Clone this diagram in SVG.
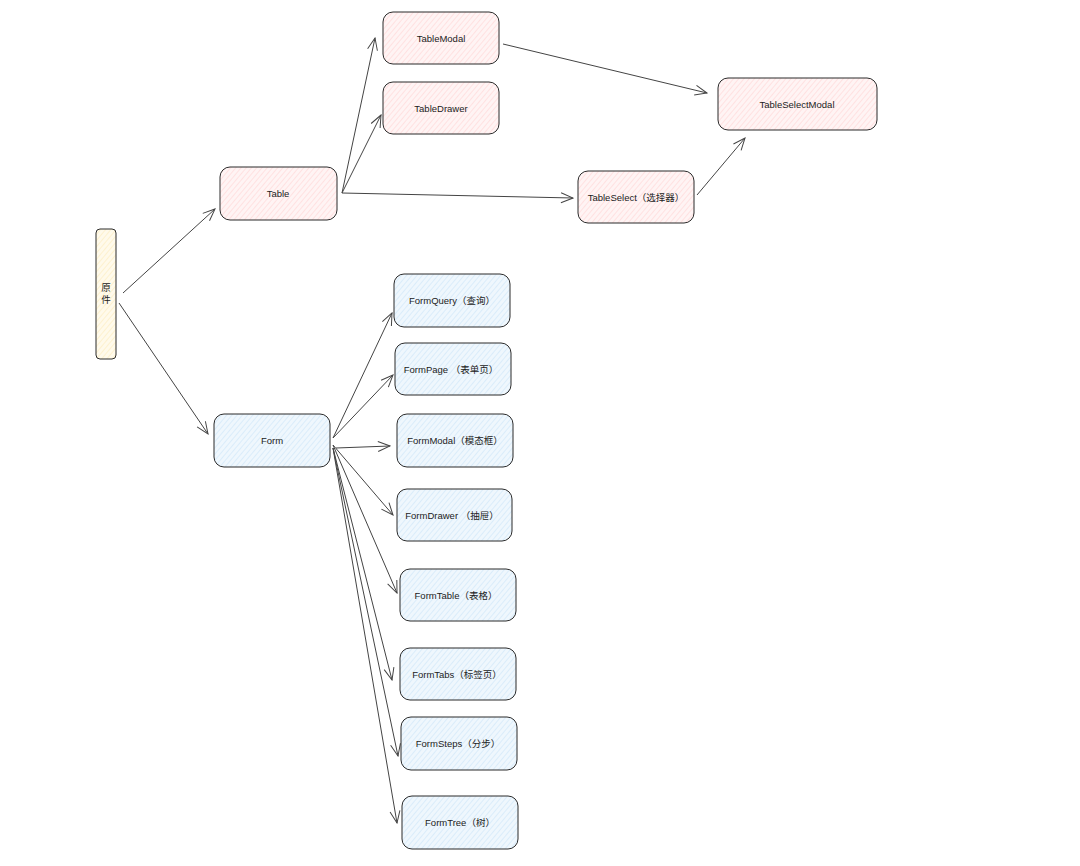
<svg xmlns="http://www.w3.org/2000/svg" width="1080" height="866" viewBox="0 0 1080 866">
<defs>
<pattern id="hPink" width="4" height="4" patternUnits="userSpaceOnUse" patternTransform="rotate(40)">
<rect width="4" height="4" fill="#fff4f4"/>
<line x1="0" y1="0" x2="0" y2="4" stroke="#ffcfcf" stroke-width="1"/>
</pattern>
<pattern id="hBlue" width="4" height="4" patternUnits="userSpaceOnUse" patternTransform="rotate(40)">
<rect width="4" height="4" fill="#eff7fd"/>
<line x1="0" y1="0" x2="0" y2="4" stroke="#c6e1f7" stroke-width="1"/>
</pattern>
<pattern id="hYellow" width="4" height="4" patternUnits="userSpaceOnUse" patternTransform="rotate(40)">
<rect width="4" height="4" fill="#fffaeb"/>
<line x1="0" y1="0" x2="0" y2="4" stroke="#fbe8b4" stroke-width="1"/>
</pattern>
<marker id="arr" markerWidth="14" markerHeight="12" refX="13" refY="6" orient="auto" markerUnits="userSpaceOnUse">
<path d="M1,1 L13,6 L1,11" fill="none" stroke="#444" stroke-width="1"/>
</marker>
</defs>
<style>
.n rect{stroke:#2b2b2b;stroke-width:1;}
.pk{fill:url(#hPink);}
.bl{fill:url(#hBlue);}
.yl{fill:url(#hYellow);}
text{font-family:"Liberation Sans","Noto Sans CJK SC",sans-serif;font-size:9.5px;fill:#222;text-anchor:middle;dominant-baseline:central;}
.c line{stroke:#444;stroke-width:1;fill:none;marker-end:url(#arr);}
</style>
<rect width="1080" height="866" fill="#ffffff"/>
<g class="c" id="connectors">
<line x1="123" y1="293" x2="215" y2="209"/>
<line x1="119" y1="303" x2="208" y2="434"/>
<line x1="342" y1="193" x2="375" y2="38"/>
<line x1="342" y1="193" x2="381" y2="115"/>
<line x1="342" y1="193" x2="573" y2="198"/>
<line x1="503" y1="44" x2="707" y2="93"/>
<line x1="697" y1="195" x2="745" y2="138"/>
<line x1="333" y1="438" x2="392" y2="313"/>
<line x1="333" y1="438" x2="393" y2="375"/>
<line x1="336" y1="448" x2="390" y2="446"/>
<line x1="333" y1="445" x2="393" y2="515"/>
<line x1="333" y1="445" x2="397" y2="593"/>
<line x1="333" y1="448" x2="392" y2="680"/>
<line x1="333" y1="448" x2="398" y2="756"/>
<line x1="333" y1="448" x2="397" y2="823"/>
</g>
<g class="n" id="n-yuanjian"><rect x="96" y="229" width="20" height="130" rx="4" class="yl"/><text x="106" y="287">原</text><text x="106" y="299">件</text></g>
<g class="n" id="n-table"><rect x="220" y="167" width="117" height="53" rx="10" class="pk"/><text x="278" y="193">Table</text></g>
<g class="n" id="n-tablemodal"><rect x="383" y="12" width="116" height="52" rx="10" class="pk"/><text x="441" y="38">TableModal</text></g>
<g class="n" id="n-tabledrawer"><rect x="383" y="82" width="116" height="52" rx="10" class="pk"/><text x="441" y="108">TableDrawer</text></g>
<g class="n" id="n-tableselectmodal"><rect x="718" y="78" width="159" height="52" rx="10" class="pk"/><text x="797" y="104">TableSelectModal</text></g>
<g class="n" id="n-tableselect"><rect x="578" y="171" width="116" height="52" rx="10" class="pk"/><text x="636" y="197">TableSelect（选择器）</text></g>
<g class="n" id="n-form"><rect x="214" y="414" width="116" height="53" rx="10" class="bl"/><text x="272" y="440">Form</text></g>
<g class="n" id="n-formquery"><rect x="394" y="274" width="116" height="53" rx="10" class="bl"/><text x="452" y="300">FormQuery（查询）</text></g>
<g class="n" id="n-formpage"><rect x="395" y="343" width="116" height="52" rx="10" class="bl"/><text x="451" y="369">FormPage （表单页）</text></g>
<g class="n" id="n-formmodal"><rect x="397" y="414" width="116" height="53" rx="10" class="bl"/><text x="455" y="440">FormModal（模态框）</text></g>
<g class="n" id="n-formdrawer"><rect x="397" y="489" width="115" height="52" rx="10" class="bl"/><text x="452" y="515">FormDrawer （抽屉）</text></g>
<g class="n" id="n-formtable"><rect x="400" y="569" width="116" height="52" rx="10" class="bl"/><text x="456" y="595">FormTable（表格）</text></g>
<g class="n" id="n-formtabs"><rect x="400" y="648" width="116" height="52" rx="10" class="bl"/><text x="457" y="674">FormTabs（标签页）</text></g>
<g class="n" id="n-formsteps"><rect x="401" y="717" width="116" height="53" rx="10" class="bl"/><text x="458" y="743">FormSteps（分步）</text></g>
<g class="n" id="n-formtree"><rect x="402" y="796" width="116" height="53" rx="10" class="bl"/><text x="460" y="822">FormTree（树）</text></g>
</svg>
